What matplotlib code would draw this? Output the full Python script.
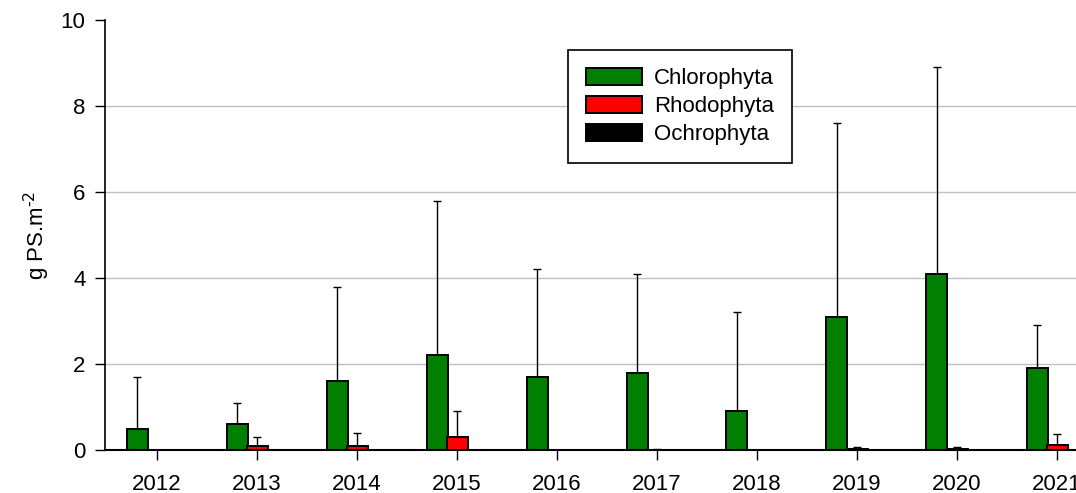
import numpy as np
import matplotlib
matplotlib.use('Agg')
import matplotlib.pyplot as plt

plt.rcParams['font.family'] = ['Liberation Sans', 'DejaVu Sans']

years = ['2012', '2013', '2014', '2015', '2016', '2017', '2018', '2019', '2020', '2021']
chloro = [0.5, 0.6, 1.6, 2.2, 1.7, 1.8, 0.9, 3.1, 4.1, 1.9]
chloro_top = [1.7, 1.1, 3.8, 5.8, 4.2, 4.1, 3.2, 7.6, 8.9, 2.9]
rhodo = [0.0, 0.1, 0.1, 0.3, 0.0, 0.01, 0.0, 0.02, 0.02, 0.12]
rhodo_top = [0.0, 0.3, 0.4, 0.9, 0.0, 0.02, 0.0, 0.08, 0.08, 0.38]
ochro = [0.0, 0.0, 0.0, 0.0, 0.0, 0.0, 0.0, 0.0, 0.0, 0.0]

x = np.arange(len(years))
w = 0.21

fig = plt.figure(figsize=(10.76, 4.93), dpi=100)
ax = fig.add_axes([105 / 1076, 43 / 493, 971 / 1076, 430 / 493])

#bars
ax.bar(x - 0.2, chloro, w, color='#007f00', edgecolor='black', linewidth=1.4, label='Chlorophyta', zorder=3)
ax.bar(x, rhodo, w, color='#ff0000', edgecolor='black', linewidth=1.4, label='Rhodophyta', zorder=3)
ax.bar(x + 0.2, ochro, w, color='black', edgecolor='black', linewidth=1.4, label='Ochrophyta', zorder=3)

#error bars, upward only
c_err = np.array(chloro_top) - np.array(chloro)
r_err = np.array(rhodo_top) - np.array(rhodo)
ax.errorbar(x - 0.2, chloro, yerr=[np.zeros_like(c_err), c_err], fmt='none',
            ecolor='black', elinewidth=1, capsize=3, capthick=1, zorder=2)
mask = r_err > 0
ax.errorbar(x[mask], np.array(rhodo)[mask], yerr=[np.zeros(mask.sum()), r_err[mask]], fmt='none',
            ecolor='black', elinewidth=1, capsize=3, capthick=1, zorder=2)

ax.set_xlim(-0.52, 9.19)
ax.set_ylim(0, 10)
ax.set_yticks([0, 2, 4, 6, 8, 10])
ax.set_xticks(x)
ax.set_xticklabels(years)
ax.tick_params(axis='both', direction='out', length=7, width=1, labelsize=16)
ax.tick_params(axis='y', pad=7)
ax.tick_params(axis='x', pad=10)
ax.yaxis.grid(True, color='#c0c0c0', linewidth=1, zorder=0)
ax.get_ygridlines()[-1].set_visible(False)
ax.set_axisbelow(True)
for s in ['top', 'right']:
    ax.spines[s].set_visible(False)
ax.spines['left'].set_linewidth(1.2)
ax.spines['bottom'].set_linewidth(1.5)
ax.spines['bottom'].set_zorder(4)

ax.set_ylabel('g PS.m$^{\\text{-2}}$', fontsize=16, labelpad=6)

leg = ax.legend(loc='upper left', bbox_to_anchor=(0.477, 0.93), fontsize=16,
                frameon=True, fancybox=False, edgecolor='black', framealpha=1,
                handlelength=2.5, handleheight=0.8, borderpad=0.8, labelspacing=0.3,
                handletextpad=0.55, borderaxespad=0)
leg.get_frame().set_linewidth(1.2)

fig.savefig('out.png', dpi=100)
